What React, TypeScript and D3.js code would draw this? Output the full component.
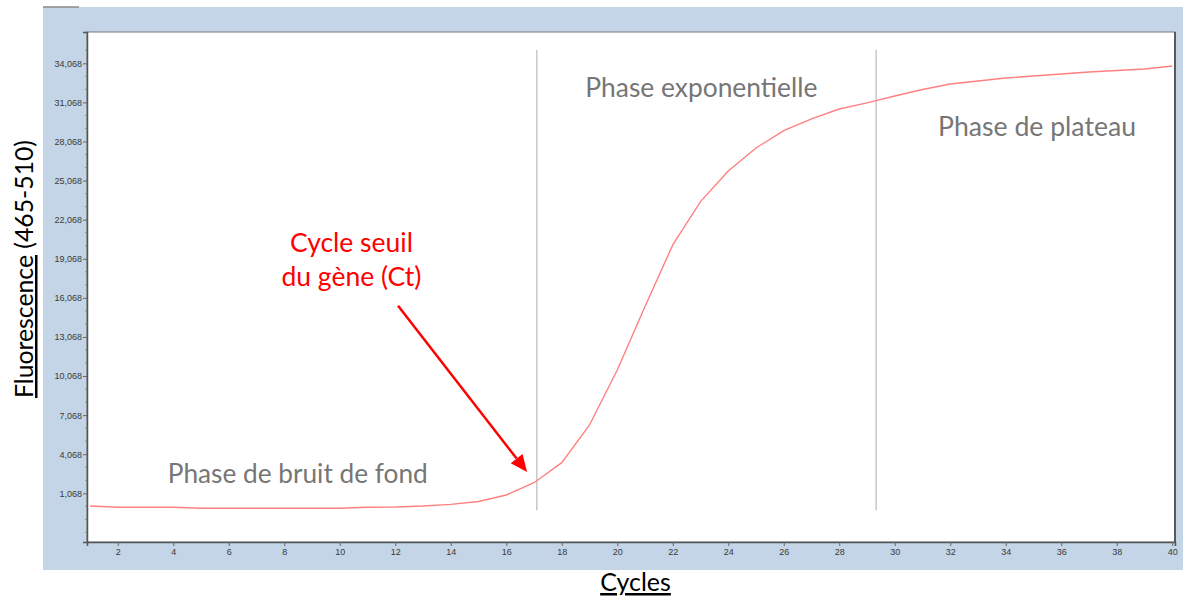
import React, { useEffect, useRef } from 'react';
import * as d3 from 'd3';

// fluorescence reading per cycle (465-510 channel)
const cycles = d3.range(1, 41);
const fluorescence = [
  90, 0, 0, 0, -80, -80, -80, -80, -80, -80,
  0, 20, 90, 220, 440, 940, 1880, 3420, 6310, 10530,
  15400, 20130, 23450, 25800, 27570, 28900, 29800, 30560, 31030, 31560,
  32060, 32480, 32710, 32940, 33090, 33250, 33400, 33520, 33630, 33860,
];
const yTicks = [1068, 4068, 7068, 10068, 13068, 16068, 19068, 22068, 25068, 28068, 31068, 34068];
const xTicks = [2, 4, 6, 8, 10, 12, 14, 16, 18, 20, 22, 24, 26, 28, 30, 32, 34, 36, 38, 40];
const phaseBounds = [17.1, 29.33];
const phaseLabels = [
  { text: 'Phase de bruit de fond', cycle: 3.8, value: 1850, len: 260 },
  { text: 'Phase exponentielle', cycle: 18.85, value: 31480, len: 232 },
  { text: 'Phase de plateau', cycle: 31.56, value: 28500, len: 198 },
];
const ctLabel = ['Cycle seuil', 'du gène (Ct)'];
const ctLabelValues = [19600, 16950];
const ctArrow = { from: [12.1, 15460], to: [16.75, 2700] };

const App = () => {
  const ref = useRef<SVGSVGElement | null>(null);

  useEffect(() => {
    const svg = d3.select(ref.current);
    svg.selectAll('*').remove();

    const x = d3.scaleLinear().domain([0.89, 40.1]).range([87, 1175]);
    const y = d3.scaleLinear().domain([-2670, 36470]).range([542, 32]);

    // blue frame
    svg.append('rect').attr('x', 43).attr('y', 7).attr('width', 1140).attr('height', 563).attr('fill', '#c3d5e6');
    svg.append('line').attr('x1', 43).attr('x2', 79).attr('y1', 7).attr('y2', 7).attr('stroke', '#8a8a8a').attr('stroke-width', 1.5);

    // plot area
    svg
      .append('rect')
      .attr('x', x.range()[0])
      .attr('y', y.range()[1])
      .attr('width', x.range()[1] - x.range()[0])
      .attr('height', y.range()[0] - y.range()[1])
      .attr('fill', '#fff')
      .attr('stroke', '#7a7a7a')
      .attr('stroke-width', 1);
    svg
      .append('line')
      .attr('x1', x.range()[1])
      .attr('x2', x.range()[1])
      .attr('y1', y.range()[1])
      .attr('y2', y.range()[0])
      .attr('stroke', '#5a5a5a')
      .attr('stroke-width', 2);

    // y axis
    const yAxis = svg.append('g').attr('transform', `translate(${x.range()[0]},0)`);
    yAxis
      .call(d3.axisLeft(y).tickValues(yTicks).tickFormat(d3.format(',')).tickSize(4).tickPadding(1))
      .call((g) => g.select('.domain').attr('stroke', '#555').attr('stroke-width', 1.5));
    yAxis.selectAll('.tick line').attr('stroke', '#666');
    yAxis
      .selectAll('.tick text')
      .attr('fill', '#3a3a3a')
      .attr('font-size', 9)
      .attr('font-family', '"Liberation Sans Narrow", "Liberation Sans", Arial, sans-serif');
    const minor = d3.range(-1932, 36000, 1000).filter((v) => !yTicks.includes(v));
    svg
      .append('g')
      .selectAll('line')
      .data(minor)
      .join('line')
      .attr('x1', x.range()[0] - 2)
      .attr('x2', x.range()[0])
      .attr('y1', (d) => y(d))
      .attr('y2', (d) => y(d))
      .attr('stroke', '#888');

    // x axis
    const xAxis = svg.append('g').attr('transform', `translate(0,${y.range()[0]})`);
    xAxis
      .call(d3.axisBottom(x).tickValues(xTicks).tickFormat(d3.format('d')).tickSize(4).tickPadding(3))
      .call((g) => g.select('.domain').attr('stroke', '#555').attr('stroke-width', 1.5));
    xAxis.selectAll('.tick line').attr('stroke', '#666');
    xAxis
      .selectAll('.tick text')
      .attr('fill', '#3a3a3a')
      .attr('font-size', 9)
      .attr('font-family', '"Liberation Sans Narrow", "Liberation Sans", Arial, sans-serif');

    // phase boundaries
    svg
      .append('g')
      .selectAll('line')
      .data(phaseBounds)
      .join('line')
      .attr('x1', (d) => x(d))
      .attr('x2', (d) => x(d))
      .attr('y1', y(35090))
      .attr('y2', y(-230))
      .attr('stroke', '#c8c8c8')
      .attr('stroke-width', 1.5);

    // curve
    const line = d3
      .line<number>()
      .x((d, i) => x(cycles[i]))
      .y((d) => y(d));
    svg.append('path').datum(fluorescence).attr('d', line).attr('fill', 'none').attr('stroke', '#ff8080').attr('stroke-width', 1.4);

    // phase labels
    phaseLabels.forEach((p) => {
      svg
        .append('text')
        .attr('x', x(p.cycle))
        .attr('y', y(p.value))
        .attr('textLength', p.len)
        .attr('lengthAdjust', 'spacingAndGlyphs')
        .attr('font-family', 'Lato, "Open Sans", sans-serif')
        .attr('font-size', 26)
        .attr('fill', '#767676')
        .text(p.text);
    });

    // Ct annotation
    const ctX = x(10.42);
    ctLabel.forEach((t, i) => {
      svg
        .append('text')
        .attr('x', ctX)
        .attr('y', y(ctLabelValues[i]))
        .attr('text-anchor', 'middle')
        .attr('font-family', 'Lato, "Open Sans", sans-serif')
        .attr('font-size', 26.5)
        .attr('fill', '#ff0000')
        .text(t);
    });

    const [x1, y1] = [x(ctArrow.from[0]), y(ctArrow.from[1])];
    const [x2, y2] = [x(ctArrow.to[0]), y(ctArrow.to[1])];
    const ang = Math.atan2(y2 - y1, x2 - x1);
    const headLen = 17;
    const headW = 7.5;
    const bx = x2 - headLen * Math.cos(ang);
    const by = y2 - headLen * Math.sin(ang);
    svg.append('line').attr('x1', x1).attr('y1', y1).attr('x2', bx).attr('y2', by).attr('stroke', '#ff0000').attr('stroke-width', 2.5);
    svg
      .append('path')
      .attr(
        'd',
        `M${x2},${y2}L${bx - headW * Math.sin(ang)},${by + headW * Math.cos(ang)}L${bx + headW * Math.sin(ang)},${by - headW * Math.cos(ang)}Z`
      )
      .attr('fill', '#ff0000');

    // axis titles
    const yTitle = svg
      .append('text')
      .attr('transform', 'translate(33,269) rotate(-90)')
      .attr('text-anchor', 'middle')
      .attr('font-family', 'Lato, "Open Sans", sans-serif')
      .attr('font-size', 25)
      .attr('fill', '#000')
      .attr('textLength', 258)
      .attr('lengthAdjust', 'spacingAndGlyphs');
    yTitle.append('tspan').attr('text-decoration', 'underline').text('Fluorescence');
    yTitle.append('tspan').text(' (465-510)');

    svg
      .append('text')
      .attr('x', 635.5)
      .attr('y', 591)
      .attr('text-anchor', 'middle')
      .attr('font-family', 'Lato, "Open Sans", sans-serif')
      .attr('font-size', 25)
      .attr('fill', '#000')
      .attr('text-decoration', 'underline')
      .text('Cycles');
  }, []);

  return <svg ref={ref} width={1189} height={601} style={{ position: 'absolute', left: 0, top: 0, background: '#fff' }} />;
};

export default App;
